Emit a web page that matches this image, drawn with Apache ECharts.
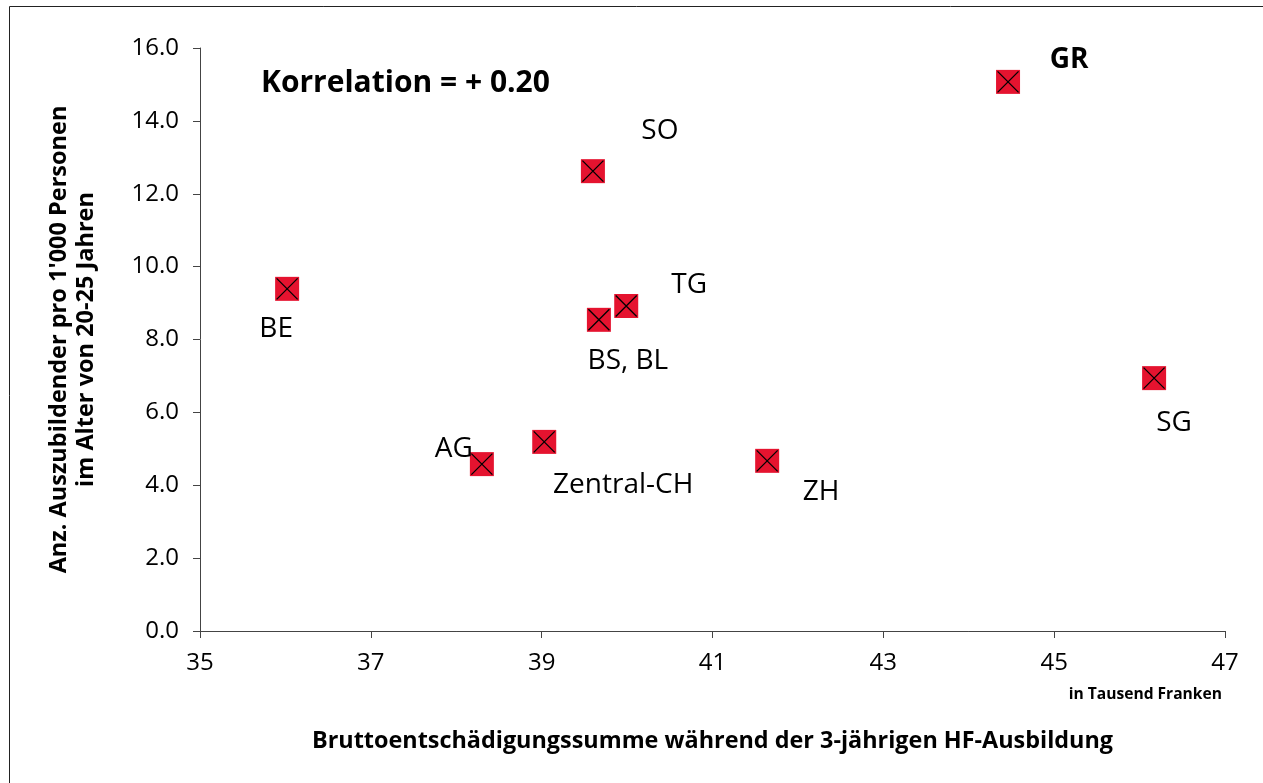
<!DOCTYPE html>
<html>
<head>
<meta charset="utf-8">
<script src="https://cdn.jsdelivr.net/npm/echarts@6/dist/echarts.min.js"></script>
<style>
  html, body { margin: 0; padding: 0; background: #fff; }
  #main { width: 1263px; height: 783px; }
</style>
</head>
<body>
<div id="main"></div>
<script>
// Daten
const kantone = ['GR', 'SO', 'BE', 'TG', 'BS, BL', 'SG', 'Zentral-CH', 'AG', 'ZH'];
const entschaedigung = [44.46, 39.60, 36.02, 39.99, 39.67, 46.17, 39.03, 38.30, 41.64];
const auszubildende = [15.07, 12.62, 9.39, 8.92, 8.54, 6.94, 5.19, 4.58, 4.67];
const xTicks = [35, 37, 39, 41, 43, 45, 47];
const yTicks = [0, 2, 4, 6, 8, 10, 12, 14, 16];

// Beschriftungs-Versatz (nur Darstellung)
const labelOffset = {
  'GR': [61, -22],
  'SO': [67, -40],
  'BE': [-11, 40],
  'TG': [63, -21],
  'BS, BL': [29, 41],
  'SG': [20, 45],
  'Zentral-CH': [79, 43],
  'AG': [-28, -15],
  'ZH': [54, 31]
};

const font = '"Open Sans", "Noto Sans", sans-serif';
const chart = echarts.init(document.getElementById('main'));

const punkte = kantone.map((k, i) => ({
  name: k,
  value: [entschaedigung[i], auszubildende[i]],
  label: {
    offset: labelOffset[k],
    fontWeight: k === 'GR' ? 'bold' : 'normal'
  }
}));

const option = {
  animation: false,
  backgroundColor: '#fff',
  title: {
    text: 'Korrelation = + 0.20',
    left: 256,
    top: 63,
    textStyle: { fontFamily: font, fontSize: 30, fontWeight: 'bold', color: '#000' }
  },
  grid: { left: 200, right: 38, top: 48, bottom: 152, containLabel: false },
  xAxis: {
    type: 'value',
    min: xTicks[0],
    max: xTicks[xTicks.length - 1],
    interval: 2,
    name: 'Bruttoentschädigungssumme während der 3-jährigen HF-Ausbildung',
    nameLocation: 'middle',
    nameGap: 99,
    nameTextStyle: { fontFamily: font, fontSize: 23.4, fontWeight: 'bold', color: '#000' },
    axisLine: { lineStyle: { color: '#444', width: 1 } },
    axisTick: { show: true, length: 7, lineStyle: { color: '#444' } },
    axisLabel: { margin: 20, fontFamily: font, fontSize: 24, color: '#000' },
    splitLine: { show: false }
  },
  yAxis: {
    type: 'value',
    min: yTicks[0],
    max: yTicks[yTicks.length - 1],
    interval: 2,
    name: "Anz. Auszubildender pro 1'000 Personen\nim Alter von 20-25 Jahren",
    nameLocation: 'middle',
    nameGap: 100,
    nameTextStyle: { fontFamily: font, fontSize: 23.5, fontWeight: 'bold', color: '#000', lineHeight: 27 },
    axisLine: { show: true, lineStyle: { color: '#444', width: 1 } },
    axisTick: { show: true, length: 7, lineStyle: { color: '#444' } },
    axisLabel: {
      margin: 21, fontFamily: font, fontSize: 24, color: '#000',
      formatter: v => v.toFixed(1)
    },
    splitLine: { show: false }
  },
  graphic: [
    {
      type: 'rect',
      shape: { x: 9.5, y: 6.5, width: 1400, height: 1000 },
      style: { fill: 'none', stroke: '#222', lineWidth: 1 },
      silent: true
    },
    {
      type: 'text',
      right: 41,
      top: 687,
      style: { text: 'in Tausend Franken', font: 'bold 15.6px ' + font, fill: '#000' }
    }
  ],
  series: [
    {
      type: 'scatter',
      symbol: 'rect',
      symbolSize: 24,
      itemStyle: { color: '#E5132F', opacity: 1 },
      label: {
        show: true,
        position: 'inside',
        formatter: '{b}',
        fontFamily: font,
        fontSize: 28,
        color: '#000'
      },
      data: punkte,
      z: 2
    },
    {
      type: 'scatter',
      symbol: 'path://M0,0L10,10M10,0L0,10',
      symbolSize: 21,
      itemStyle: { color: 'none', borderColor: '#000', borderWidth: 1.3, opacity: 1 },
      silent: true,
      data: kantone.map((k, i) => [entschaedigung[i], auszubildende[i]]),
      z: 3
    }
  ]
};

option && chart.setOption(option);
</script>
</body>
</html>
